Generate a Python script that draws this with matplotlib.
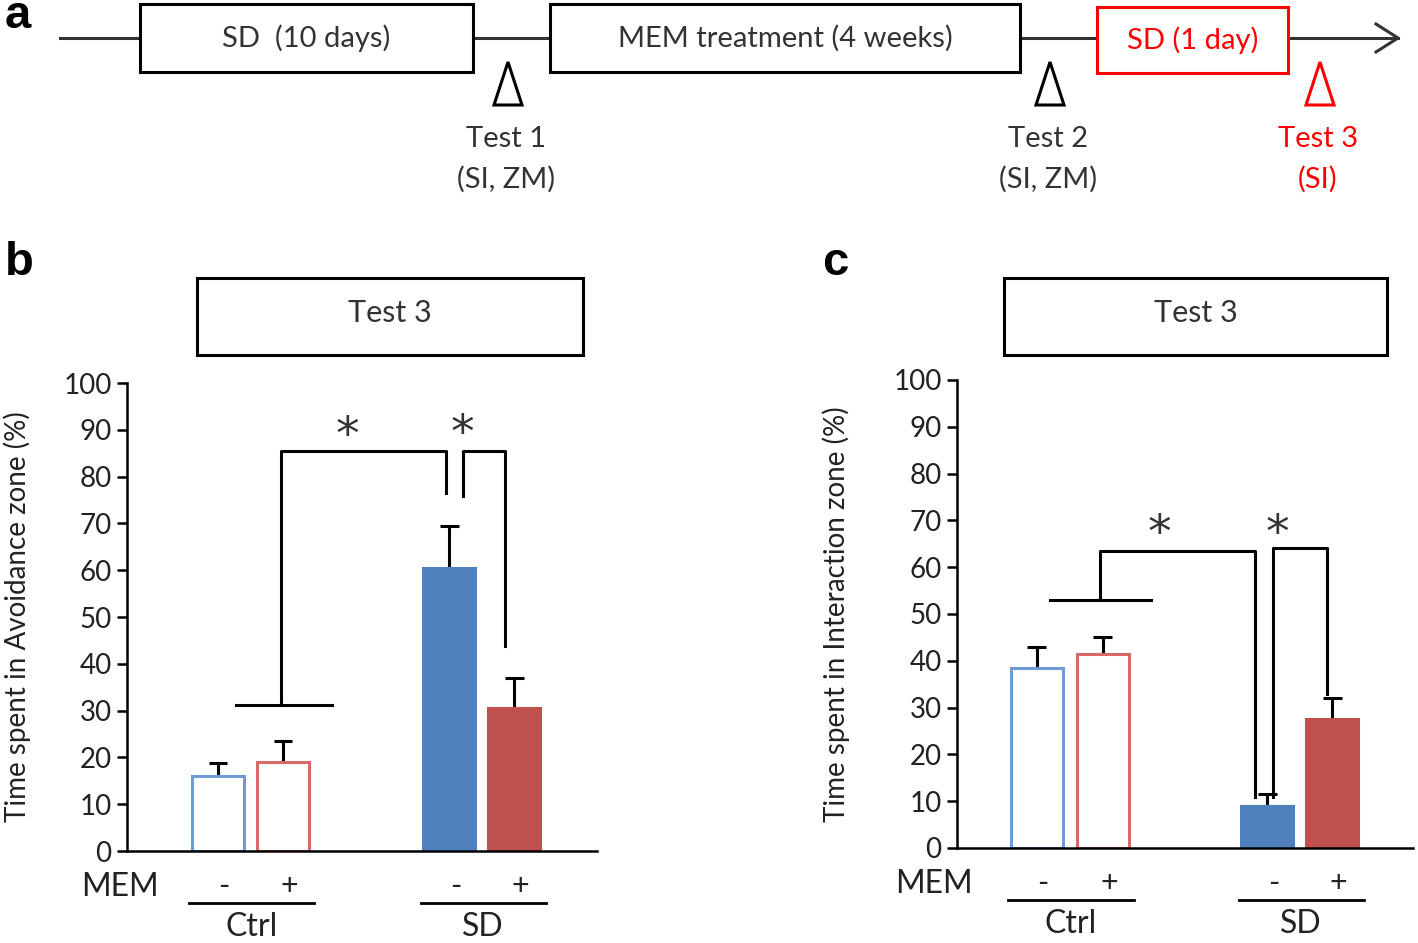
import matplotlib
matplotlib.use('Agg')
import matplotlib.pyplot as plt
import matplotlib.transforms as mtransforms
from matplotlib.patches import Rectangle, Polygon

plt.rcParams['font.family'] = ['Lato', 'DejaVu Sans']

W, H = 1418, 943

# ---- data -------------------------------------------------------------
groups = ['Ctrl', 'SD']
mem_signs = ['-', '+', '-', '+']
avoid_mean = [16, 19, 60.5, 30.5]
avoid_err = [2.7, 4.5, 9.0, 6.5]
inter_mean = [38.5, 41.5, 9.0, 27.5]
inter_err = [4.5, 3.5, 2.5, 4.5]
yticks = [0, 10, 20, 30, 40, 50, 60, 70, 80, 90, 100]

# bar positions (bar width = 1 unit)
pos_b = [1.75, 3.0, 6.2, 7.45]
pos_c = [1.53, 2.8, 5.97, 7.22]

# significance brackets: (x list, y list), stars (x, y)
brackets_b = [([2.10, 3.94], [31.2, 31.2]),
              ([2.96, 2.96, 6.13, 6.13], [31.2, 85.5, 85.5, 76.5]),
              ([6.46, 6.46, 7.27, 7.27], [75.9, 85.5, 85.5, 43.8])]
stars_b = [(4.23, 88.5), (6.46, 89.0)]
brackets_c = [([1.78, 3.73], [53.0, 53.0]),
              ([2.75, 2.75, 5.73, 5.73], [53.0, 63.5, 63.5, 11.0]),
              ([6.08, 6.08, 7.12, 7.12], [11.0, 64.0, 64.0, 33.0])]
stars_c = [(3.90, 67.0), (6.17, 67.0)]

blue = '#4F81BD'
red = '#C0504D'
face = ['white', 'white', blue, red]
edge = ['#6E9BD6', '#D46A6A', blue, red]


def px_axes(x0, x1, y_top, y_bot):
    return [x0 / W, 1 - y_bot / H, (x1 - x0) / W, (y_bot - y_top) / H]


def bar_panel(ax, pos, mean, err, xmax, ylabel, brackets, stars, mem_x, lab_x):
    ax.bar(pos, mean, width=1.0, color=face, edgecolor=edge, linewidth=2.2, zorder=2)
    tops = [m + e for m, e in zip(mean, err)]
    ax.vlines(pos, mean, tops, color='black', linewidth=2.2, zorder=1)
    ax.hlines(tops, [p - 0.18 for p in pos], [p + 0.18 for p in pos],
              color='black', linewidth=2.2, zorder=1)
    for xs, ys in brackets:
        ax.plot(xs, ys, color='black', linewidth=2.2, clip_on=False)
    for sx, sy in stars:
        ax.text(sx, sy, '*', ha='center', va='center', fontsize=34,
                color='#333333', family='DejaVu Sans')
    ax.set_xlim(0, xmax)
    ax.set_ylim(0, 100)
    ax.set_yticks(yticks)
    ax.set_xticks([])
    for s in ['top', 'right']:
        ax.spines[s].set_visible(False)
    for s in ['left', 'bottom']:
        ax.spines[s].set_linewidth(1.8)
    ax.tick_params(axis='y', length=7, width=1.8, labelsize=20, pad=4,
                   colors='black', labelcolor='#222222')
    ax.set_ylabel(ylabel, fontsize=20, color='#222222')
    ax.yaxis.set_label_coords(lab_x, 0.5)

    tr = mtransforms.blended_transform_factory(ax.transData, ax.transAxes)
    ax.text(mem_x, -0.077, 'MEM', transform=tr, ha='center', va='center',
            fontsize=23, color='#222222')
    for p, s in zip(pos, mem_signs):
        ax.text(p + 0.12, -0.074, s, transform=tr, ha='center', va='center',
                fontsize=22, color='#222222')
    for g, (a, b) in zip(groups, [(pos[0], pos[1]), (pos[2], pos[3])]):
        x0, x1 = a - 0.55, b + 0.6
        ax.plot([x0, x1], [-0.111, -0.111], transform=tr, color='black',
                linewidth=2.0, clip_on=False)
        ax.text((x0 + x1) / 2, -0.163, g, transform=tr, ha='center',
                va='center', fontsize=23, color='#222222')


fig = plt.figure(figsize=(W / 100, H / 100), dpi=100)

ax_b = fig.add_axes(px_axes(127, 597, 383, 851))
bar_panel(ax_b, pos_b, avoid_mean, avoid_err, 9.04,
          'Time spent in Avoidance zone (%)', brackets_b, stars_b, -0.13, -0.205)

ax_c = fig.add_axes(px_axes(957, 1413, 380, 848))
bar_panel(ax_c, pos_c, inter_mean, inter_err, 8.77,
          'Time spent in Interaction zone (%)', brackets_c, stars_c, -0.44, -0.235)

# ---- overlay in pixel coordinates: timeline, test boxes, panel labels ----
ov = fig.add_axes([0, 0, 1, 1])
ov.set_xlim(0, W)
ov.set_ylim(H, 0)
ov.axis('off')
ov.patch.set_alpha(0)

line_kw = dict(color='#333333', linewidth=2.2)
ov.plot([60, 1398], [38, 38], **line_kw)
ov.plot([1376, 1398, 1376], [24, 38, 52], **line_kw)

stages = [('SD  (10 days)', 140, 473, 4, 72, 'black'),
          ('MEM treatment (4 weeks)', 550, 1020, 4, 72, 'black'),
          ('SD (1 day)', 1097, 1288, 7, 73, 'red')]
for label, x0, x1, y0, y1, col in stages:
    ov.add_patch(Rectangle((x0, y0), x1 - x0, y1 - y0, facecolor='white',
                           edgecolor=col, linewidth=2.2, zorder=3))
    ov.text((x0 + x1) / 2, (y0 + y1) / 2, label, ha='center', va='center',
            fontsize=21, color='#333333' if col == 'black' else 'red', zorder=4)

tests = [('Test 1', '(SI, ZM)', 508, 'black'),
         ('Test 2', '(SI, ZM)', 1050, 'black'),
         ('Test 3', '(SI)', 1320, 'red')]
for t1, t2, x, col in tests:
    ov.add_patch(Polygon([(x - 14, 105), (x, 62), (x + 14, 105)], closed=True,
                         fill=False, edgecolor=col, linewidth=2.2))
    tc = '#333333' if col == 'black' else 'red'
    ov.text(x - 2, 139, t1, ha='center', va='center', fontsize=21, color=tc)
    ov.text(x - 2, 179, t2, ha='center', va='center', fontsize=21, color=tc)

for x0, x1 in [(197, 583), (1004, 1387)]:
    ov.add_patch(Rectangle((x0, 278), x1 - x0, 77, facecolor='white',
                           edgecolor='black', linewidth=2.2))
    ov.text((x0 + x1) / 2, 313, 'Test 3', ha='center', va='center',
            fontsize=22, color='#333333')

for lab, x, y in [('a', 5, 28), ('b', 5, 275), ('c', 822, 275)]:
    ov.text(x, y, lab, ha='left', va='baseline', fontsize=34,
            fontweight='bold', family='Liberation Sans')

fig.savefig('out.png', dpi=100)
